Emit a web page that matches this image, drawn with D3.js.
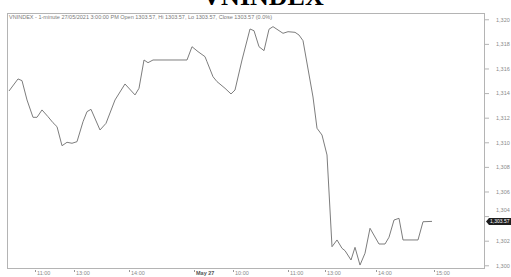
<!DOCTYPE html>
<html><head><meta charset="utf-8">
<script src="https://cdn.jsdelivr.net/npm/d3@7"></script>
<style>html,body{margin:0;padding:0;background:#fff;overflow:hidden}</style>
</head><body><svg id="c" width="511" height="277"></svg>
<script>
const titleText = "VNINDEX";
const headerText = "VNINDEX - 1-minute 27/05/2021 3:00:00 PM Open 1303.57, Hi 1303.57, Lo 1303.57, Close 1303.57 (0.0%)";
// bar index (compressed trading time) and close values
const barIndex = [2,11,15,20,26,30,35,41,46,50,55,60,65,70,76,80,84,93,99,108,118,128,132,137,141,146,180,
  185,191,198,200,206,210,218,224,228,235,243,247,252,257,262,266,276,281,288,292,296,306,310,315,320,325,330,335,338,344,348,353,358,363,372,378,382,387,392,396,411,416,425];
const closeValues = [1314.17,1315.15,1315.01,1313.44,1312.03,1312.03,1312.63,1312.08,1311.59,1311.27,1309.72,1310.00,1309.92,1310.05,1311.67,1312.49,1312.68,1311.00,1311.54,1313.44,1314.74,1313.85,1314.39,1316.69,1316.47,1316.69,1316.69,
  1317.77,1317.37,1316.96,1316.55,1315.33,1314.93,1314.39,1313.93,1314.25,1316.69,1319.21,1319.07,1317.77,1317.45,1319.19,1319.40,1318.86,1318.99,1318.94,1318.72,1318.26,1313.68,1311.14,1310.59,1308.97,1301.51,1302.06,1301.38,1301.19,1300.43,1301.46,1300.02,1300.98,1303.01,1301.73,1301.73,1302.28,1303.68,1303.82,1302.06,1302.06,1303.54,1303.57];
const yTickValues = [1300,1302,1304,1306,1308,1310,1312,1314,1316,1318,1320];
const xTickIndex = [28,67,122,187,226,281,318,369,427];
const xTickLabels = ["11:00","13:00","14:00","May 27","10:00","11:00","13:00","14:00","15:00"];
const lastClose = 1303.57;

const svg = d3.select("#c");
const L = 7, R = 485, T = 13, B = 268;
const x = d3.scaleLinear().domain([0, 478]).range([L, R]);
const y = d3.scaleLinear().domain([1299.78, 1320.51]).range([B, T]);
const font = "Liberation Sans, Arial, sans-serif";
const grey = "#8a8a8a";

// title (mostly cropped at top)
const t = svg.append("text").text(titleText)
  .attr("x", 263).attr("y", 5).attr("text-anchor", "middle")
  .attr("font-family", "Liberation Serif, Times New Roman, serif")
  .attr("font-weight", "bold").attr("font-size", 26).attr("fill", "#000");

// frame
svg.append("rect").attr("x", L + 0.5).attr("y", T + 0.5)
  .attr("width", R - L - 1).attr("height", B - T)
  .attr("fill", "none").attr("stroke", "#b4b4b4").attr("stroke-width", 1);

// header
svg.append("text").text(headerText).attr("x", 9).attr("y", 18.5)
  .attr("font-family", font).attr("font-size", 5.3).attr("fill", "#7a7a7a")
  .attr("textLength", 263).attr("lengthAdjust", "spacingAndGlyphs");

// right axis
const yAxis = d3.axisRight(y).tickValues(yTickValues).tickSize(4).tickPadding(7)
  .tickFormat(d3.format(","));
const ga = svg.append("g").attr("transform", `translate(${R},0)`).call(yAxis);
ga.select(".domain").remove();
ga.selectAll(".tick line").attr("stroke", "#b4b4b4");
ga.selectAll(".tick text").attr("font-family", font).attr("font-size", 5.5).attr("fill", grey)
  .attr("dy", d => d === 1304 ? "-0.9em" : "0.32em");

// bottom axis
const xAxis = d3.axisBottom(x).tickValues(xTickIndex).tickSize(2)
  .tickFormat((d, i) => xTickLabels[i]);
const gx = svg.append("g").attr("transform", `translate(0,${B + 2})`).call(xAxis);
gx.select(".domain").remove();
gx.selectAll(".tick line").attr("stroke", "#999");
gx.selectAll(".tick text").attr("text-anchor", "start").attr("x", 1.5).attr("y", 1).attr("dy", "0.71em")
  .attr("font-family", font).attr("font-size", 5.5).attr("fill", grey)
  .attr("font-weight", (d, i) => xTickLabels[i].startsWith("May") ? "bold" : "normal")
  .attr("fill", (d, i) => xTickLabels[i].startsWith("May") ? "#555" : grey);

// price line
const pts = barIndex.map((b, i) => [b, closeValues[i]]);
svg.append("path").datum(pts)
  .attr("d", d3.line().x(d => x(d[0])).y(d => y(d[1])))
  .attr("fill", "none").attr("stroke", "#7d7d7d").attr("stroke-width", 1);

// last price tag
const yc = y(lastClose);
svg.append("path")
  .attr("d", `M${R + 1},${yc} L${R + 4},${yc - 3.5} L511,${yc - 3.5} L511,${yc + 3.5} L${R + 4},${yc + 3.5} Z`)
  .attr("fill", "#1e1e1e");
svg.append("text").text(d3.format(",.2f")(lastClose)).attr("x", R + 5).attr("y", yc + 1.8)
  .attr("font-family", font).attr("font-size", 5).attr("fill", "#fff");
</script></body></html>
